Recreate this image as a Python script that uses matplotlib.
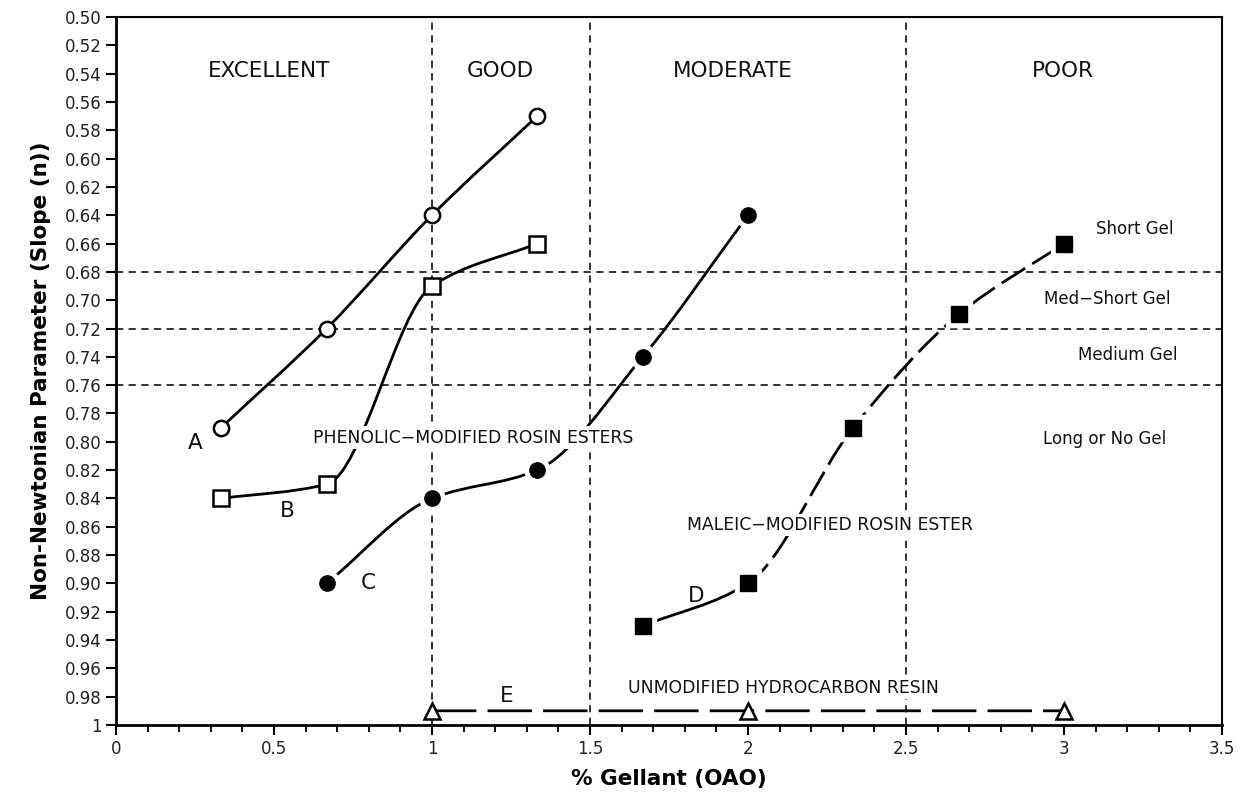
import numpy as np
import matplotlib
matplotlib.use('Agg')
import matplotlib.pyplot as plt
from matplotlib.path import Path
from matplotlib.patches import PathPatch
from matplotlib.ticker import MultipleLocator, FuncFormatter

plt.rcParams['font.family'] = ['DejaVu Sans']

# data: % gellant (OAO) vs slope n
xA = [0.333, 0.667, 1.0, 1.333]
yA = [0.79, 0.72, 0.64, 0.57]
xB = [0.333, 0.667, 1.0, 1.333]
yB = [0.84, 0.83, 0.69, 0.66]
xC = [0.667, 1.0, 1.333, 1.667, 2.0]
yC = [0.90, 0.84, 0.82, 0.74, 0.64]
xD = [1.667, 2.0, 2.333, 2.667, 3.0]
yD = [0.93, 0.90, 0.79, 0.71, 0.66]
xE = [1.0, 2.0, 3.0]
yE = [0.99, 0.99, 0.99]

zones = ['EXCELLENT', 'GOOD', 'MODERATE', 'POOR']
zone_x = [0.484, 1.215, 1.953, 2.995]
zone_lines = [1.0, 1.5, 2.5]
gels = ['Short Gel', 'Med\u2212Short Gel', 'Medium Gel', 'Long or No Gel']
gel_x = [3.225, 3.136, 3.203, 3.130]
gel_y = [0.650, 0.699, 0.739, 0.798]
gel_lines = [0.68, 0.72, 0.76]


def smooth_path(xs, ys, i0=0, i1=None):
    # monotone cubic (pchip-like) through the points, as bezier segments i0..i1
    x = np.asarray(xs, float)
    y = np.asarray(ys, float)
    n = len(x)
    if i1 is None:
        i1 = n - 1
    h = np.diff(x)
    d = np.diff(y) / h
    m = np.zeros(n)
    m[0], m[-1] = d[0], d[-1]
    for k in range(1, n - 1):
        if d[k - 1] * d[k] > 0:
            w1 = 2 * h[k] + h[k - 1]
            w2 = h[k] + 2 * h[k - 1]
            m[k] = (w1 + w2) / (w1 / d[k - 1] + w2 / d[k])
    verts = [(x[i0], y[i0])]
    codes = [Path.MOVETO]
    for i in range(i0, i1):
        hh = h[i] / 3.0
        verts += [(x[i] + hh, y[i] + m[i] * hh),
                  (x[i + 1] - hh, y[i + 1] - m[i + 1] * hh),
                  (x[i + 1], y[i + 1])]
        codes += [Path.CURVE4] * 3
    return Path(verts, codes)


fig = plt.figure(figsize=(12.44, 7.95), dpi=100)
ax = fig.add_axes([0.0932, 0.0881, 0.8891, 0.8905])

for xv in zone_lines:
    ax.axvline(xv, color='#222222', lw=1.3, ls=(0, (4, 3)), zorder=1)
for yv in gel_lines:
    ax.axhline(yv, color='#222222', lw=1.3, ls=(0, (4, 3)), zorder=1)

lw = 2.0
ax.add_patch(PathPatch(smooth_path(xA, yA), fill=False, lw=lw, ec='black', zorder=3))
ax.add_patch(PathPatch(smooth_path(xB, yB), fill=False, lw=lw, ec='black', zorder=3))
ax.add_patch(PathPatch(smooth_path(xC, yC), fill=False, lw=lw, ec='black', zorder=3))
ax.add_patch(PathPatch(smooth_path(xD, yD, 0, 1), fill=False, lw=lw, ec='black', zorder=3))
ax.add_patch(PathPatch(smooth_path(xD, yD, 1), fill=False, lw=lw, ec='black',
                       ls=(0, (10, 3)), zorder=3))
ax.add_patch(PathPatch(smooth_path(xE, yE), fill=False, lw=lw, ec='black',
                       ls=(0, (16, 4)), zorder=3))

# white halo round the filled markers
ax.plot(xC, yC, 'o', ms=18, color='white', zorder=4)
ax.plot(xD, yD, 's', ms=19, color='white', zorder=4)

ax.plot(xA, yA, 'o', ms=11, mfc='white', mec='black', mew=1.8, zorder=5)
ax.plot(xB, yB, 's', ms=11, mfc='white', mec='black', mew=1.8, zorder=5)
ax.plot(xC, yC, 'o', ms=11, mfc='black', mec='black', zorder=5)
ax.plot(xD, yD, 's', ms=11, mfc='black', mec='black', zorder=5)
ax.plot(xE, yE, '^', ms=11, mfc='white', mec='black', mew=1.8, zorder=5)

for name, xv in zip(zones, zone_x):
    ax.text(xv, 0.538, name, ha='center', va='center', fontsize=15.5, color='#111111')
for name, xv, yv in zip(gels, gel_x, gel_y):
    ax.text(xv, yv, name, ha='center', va='center', fontsize=12, color='#111111')

box = dict(facecolor='white', edgecolor='none', pad=1.5)
ax.text(1.130, 0.797, 'PHENOLIC\u2212MODIFIED ROSIN ESTERS', ha='center', va='center',
        fontsize=12.4, color='#111111', bbox=box, zorder=6)
ax.text(2.259, 0.859, 'MALEIC\u2212MODIFIED ROSIN ESTER', ha='center', va='center',
        fontsize=12.4, color='#111111', bbox=box, zorder=6)
ax.text(2.111, 0.974, 'UNMODIFIED HYDROCARBON RESIN', ha='center', va='center',
        fontsize=12.4, color='#111111', bbox=box, zorder=6)

for lab, xv, yv in [('A', 0.250, 0.801), ('B', 0.541, 0.849), ('C', 0.797, 0.900),
                    ('D', 1.835, 0.909), ('E', 1.237, 0.9795)]:
    ax.text(xv, yv, lab, ha='center', va='center', fontsize=15.5, color='#111111', zorder=6)

ax.set_xlim(0, 3.5)
ax.set_ylim(1.0, 0.5)
ax.xaxis.set_major_locator(MultipleLocator(0.5))
ax.xaxis.set_minor_locator(MultipleLocator(0.1))
ax.yaxis.set_major_locator(MultipleLocator(0.02))
ax.xaxis.set_major_formatter(FuncFormatter(lambda v, p: '%g' % v))
ax.yaxis.set_major_formatter(FuncFormatter(lambda v, p: '1' if abs(v - 1) < 1e-9 else '%.2f' % v))
ax.tick_params(axis='both', which='major', direction='out', length=7, width=1.5,
               labelsize=12, color='black', labelcolor='#222222')
ax.tick_params(axis='x', which='minor', direction='out', length=5, width=1.3)

for s in ['left', 'bottom']:
    ax.spines[s].set_linewidth(2.0)
for s in ['top', 'right']:
    ax.spines[s].set_linewidth(1.5)

ax.set_xlabel('% Gellant (OAO)', fontsize=15.5, fontweight='bold', labelpad=8)
ax.set_ylabel('Non-Newtonian Parameter (Slope (n))', fontsize=15.5, fontweight='bold', labelpad=10)

fig.savefig('out.png', dpi=100)
